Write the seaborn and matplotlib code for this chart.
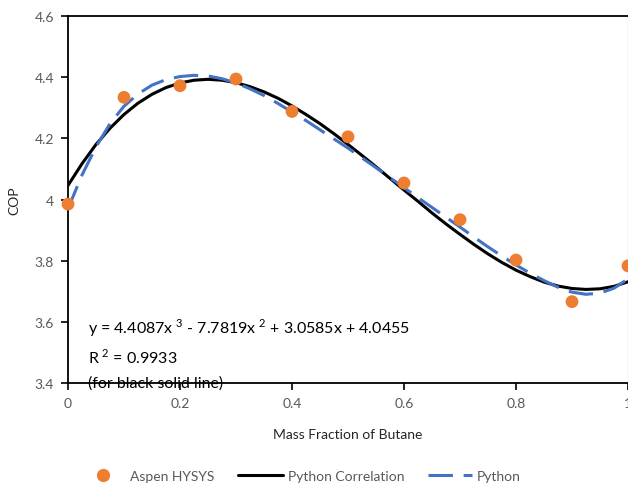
import matplotlib
matplotlib.use("Agg")
import matplotlib.pyplot as plt
import seaborn as sns
import pandas as pd
from matplotlib.lines import Line2D
from matplotlib.ticker import FixedLocator, FuncFormatter

sns.set_theme(style="white")
plt.rcParams['font.family'] = ['Lato', 'DejaVu Sans']
plt.rcParams['mathtext.fontset'] = 'custom'
plt.rcParams['mathtext.rm'] = 'Lato'

# Aspen HYSYS points
hysys_x = [0.0, 0.1, 0.2, 0.3, 0.4, 0.5, 0.6, 0.7, 0.8, 0.9, 1.0]
hysys_y = [3.985, 4.334, 4.372, 4.394, 4.288, 4.205, 4.054, 3.934, 3.802, 3.666, 3.783]

# x positions at which both curves were read
curve_x = [0.0, 0.025, 0.05, 0.075, 0.1, 0.125, 0.15, 0.175, 0.2, 0.225,
           0.25, 0.275, 0.3, 0.325, 0.35, 0.375, 0.4, 0.425, 0.45, 0.475,
           0.5, 0.525, 0.55, 0.575, 0.6, 0.625, 0.65, 0.675, 0.7, 0.725,
           0.75, 0.775, 0.8, 0.825, 0.85, 0.875, 0.9, 0.925, 0.95, 0.975, 1.0]

# Python correlation (black solid line)
corr_y = [4.046, 4.117, 4.180, 4.233, 4.278, 4.315, 4.344, 4.366, 4.381, 4.390,
          4.393, 4.390, 4.382, 4.369, 4.352, 4.331, 4.306, 4.278, 4.248, 4.215,
          4.180, 4.144, 4.107, 4.069, 4.031, 3.994, 3.956, 3.920, 3.886, 3.853,
          3.822, 3.794, 3.769, 3.748, 3.730, 3.717, 3.709, 3.706, 3.708, 3.716, 3.731]

# Python (blue dashed line)
py_y = [3.970, 4.080, 4.172, 4.248, 4.305, 4.345, 4.374, 4.392, 4.402, 4.406,
        4.404, 4.395, 4.381, 4.362, 4.340, 4.314, 4.286, 4.258, 4.228, 4.198,
        4.168, 4.136, 4.104, 4.071, 4.039, 4.006, 3.974, 3.942, 3.910, 3.877,
        3.845, 3.815, 3.786, 3.759, 3.735, 3.713, 3.697, 3.690, 3.694, 3.710, 3.740]

x_ticks = [0, 0.2, 0.4, 0.6, 0.8, 1]
y_ticks = [3.4, 3.6, 3.8, 4.0, 4.2, 4.4, 4.6]

orange = "#ED7D31"
blue = "#4472C4"
gray = "#595959"

fig = plt.figure(figsize=(6.28, 4.89), dpi=100)
ax = fig.add_axes([68/628, 105/489, 560/628, 367/489])

df_corr = pd.DataFrame({"x": curve_x, "y": corr_y})
df_py = pd.DataFrame({"x": curve_x, "y": py_y})
df_h = pd.DataFrame({"x": hysys_x, "y": hysys_y})

sns.lineplot(data=df_corr, x="x", y="y", ax=ax, color="black", linewidth=2.2, zorder=3)
sns.lineplot(data=df_py, x="x", y="y", ax=ax, color=blue, linewidth=2.2, zorder=4)
ax.lines[-1].set_dashes([8, 3.5])
for ln in ax.lines:
    ln.set_solid_joinstyle("round")
    ln.set_dash_joinstyle("round")
sns.scatterplot(data=df_h, x="x", y="y", ax=ax, color=orange, s=85, edgecolor="none",
                zorder=5, clip_on=False)

ax.set_xlim(0, 1)
ax.set_ylim(3.4, 4.6)
ax.xaxis.set_major_locator(FixedLocator(x_ticks))
ax.yaxis.set_major_locator(FixedLocator(y_ticks))
fmt = FuncFormatter(lambda v, p: f"{v:g}")
ax.xaxis.set_major_formatter(fmt)
ax.yaxis.set_major_formatter(fmt)
ax.tick_params(axis="both", which="major", direction="out", length=5, width=1.2,
               colors="black", labelcolor=gray, labelsize=10, bottom=True, left=True, pad=5)

for s in ["left", "bottom", "top"]:
    ax.spines[s].set_color("black")
    ax.spines[s].set_linewidth(1.3)
ax.spines["right"].set_color("#d9d9d9")
ax.spines["right"].set_linewidth(1.0)

ax.set_xlabel("Mass Fraction of Butane", fontsize=10, color="#262626", labelpad=14)
ax.set_ylabel("COP", fontsize=10, color="#262626", labelpad=10)

ax.text(0.036, 3.583, r"y = 4.4087x$^{\ 3}$ - 7.7819x$^{\ 2}$ + 3.0585x + 4.0455",
        fontsize=11.5, color="black", va="center", ha="left", zorder=6)
ax.text(0.036, 3.487, r"R$^{\ 2}$ = 0.9933", fontsize=11.5, color="black",
        va="center", ha="left", zorder=6)
ax.text(0.036, 3.402, "(for black solid line)", fontsize=11.5, color="black",
        va="center", ha="left", zorder=6)

handles = [
    Line2D([], [], marker="o", color=orange, linestyle="none", markersize=8.5),
    Line2D([], [], color="black", linewidth=2.2),
    Line2D([], [], color=blue, linewidth=2.2, dashes=[8, 3.5]),
]
labels = ["Aspen HYSYS", "Python Correlation", "Python"]
fig.legend(handles, labels, loc="center", bbox_to_anchor=(301/628, 12/489), ncol=3,
           frameon=False, fontsize=10, handlelength=3.2, columnspacing=1.7,
           handletextpad=0.35, labelcolor=gray)

fig.savefig("out.png", dpi=100)
